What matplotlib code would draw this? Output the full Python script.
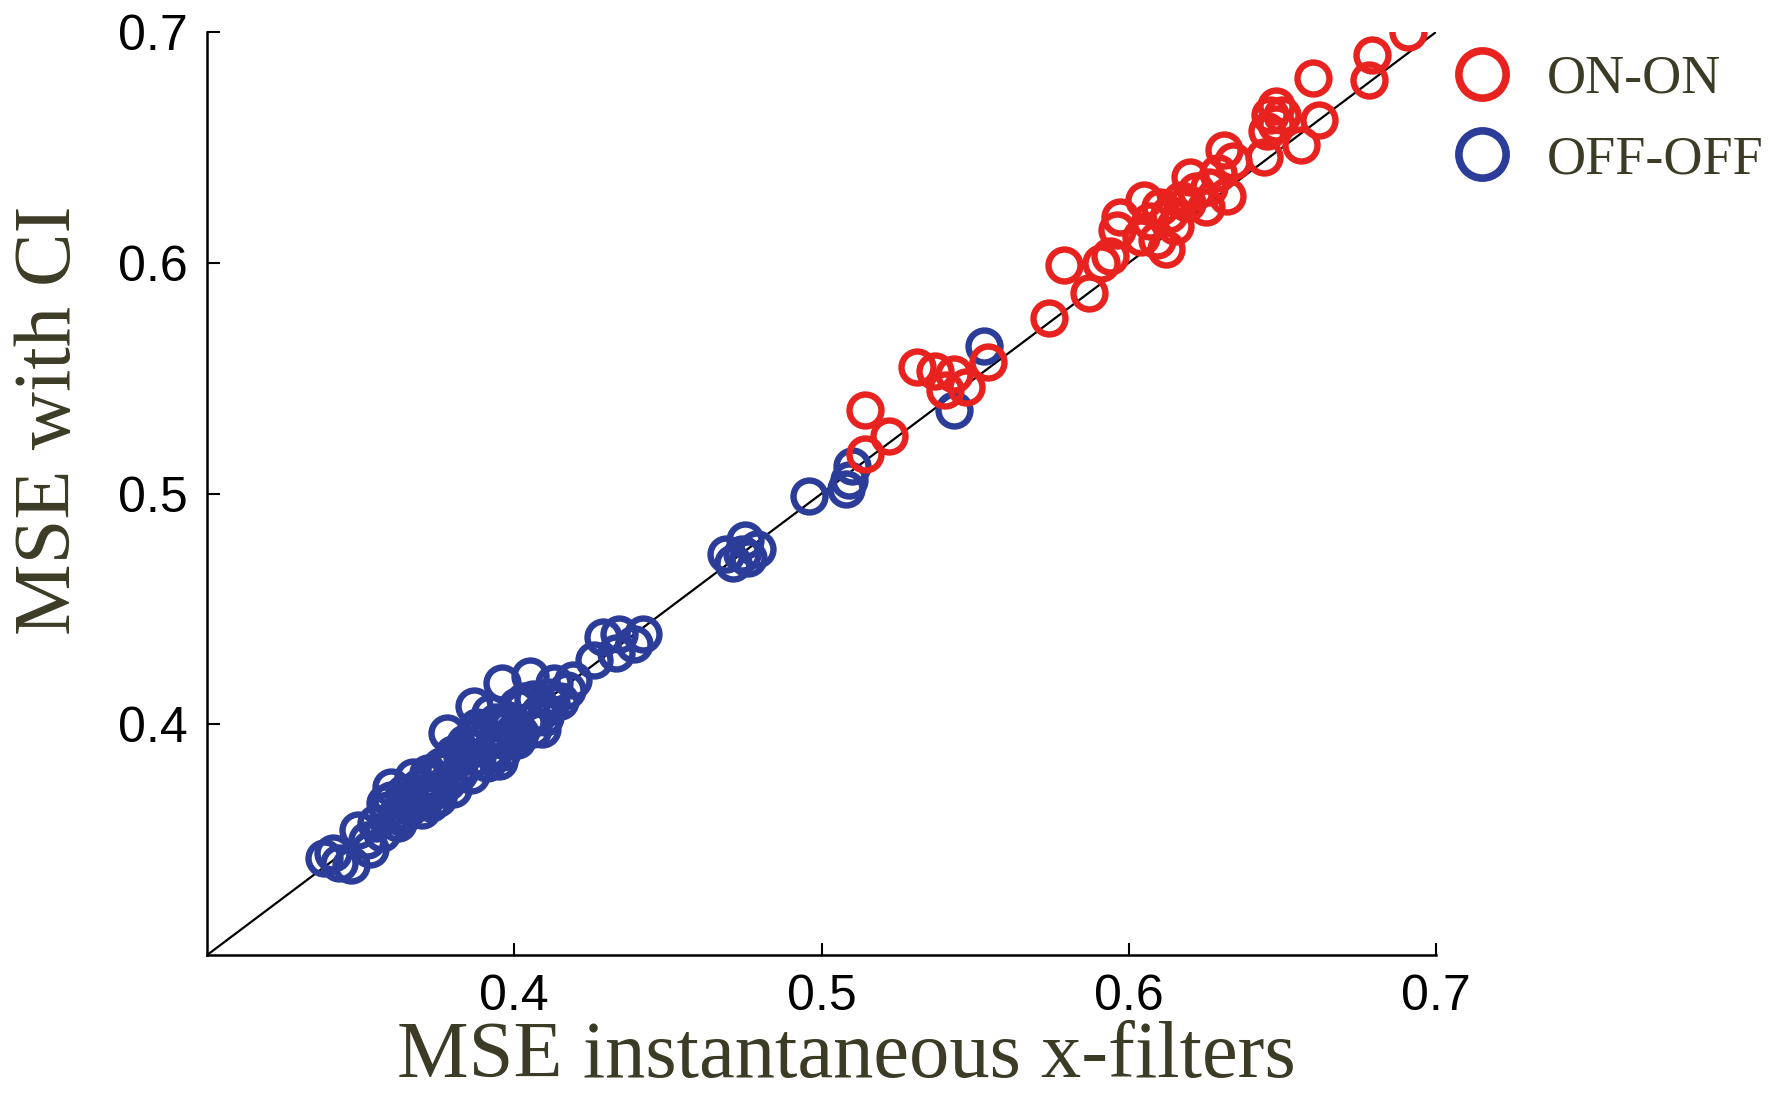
import matplotlib
matplotlib.use("Agg")
import matplotlib.pyplot as plt
from matplotlib.lines import Line2D

# ON-ON pairs (red)
on_x = [0.691, 0.679, 0.678, 0.660, 0.662, 0.656, 0.648, 0.646, 0.648, 0.645,
        0.650, 0.644, 0.631, 0.634, 0.629, 0.620, 0.622, 0.632, 0.625, 0.619,
        0.610, 0.605, 0.607, 0.609, 0.615, 0.597, 0.596, 0.594, 0.591, 0.579,
        0.587, 0.574, 0.554, 0.547, 0.543, 0.540, 0.537, 0.531, 0.522, 0.514,
        0.514, 0.626, 0.613, 0.617, 0.604, 0.612]
on_y = [0.700, 0.690, 0.679, 0.680, 0.662, 0.651, 0.668, 0.664, 0.660, 0.657,
        0.664, 0.646, 0.649, 0.644, 0.639, 0.637, 0.631, 0.629, 0.624, 0.626,
        0.624, 0.627, 0.618, 0.610, 0.616, 0.620, 0.614, 0.603, 0.600, 0.599,
        0.587, 0.576, 0.557, 0.546, 0.552, 0.545, 0.553, 0.555, 0.525, 0.536,
        0.517, 0.633, 0.621, 0.627, 0.611, 0.606]

# OFF-OFF pairs (blue)
off_x = [0.338, 0.343, 0.347, 0.349, 0.353, 0.352, 0.360, 0.360, 0.359, 0.363,
         0.365, 0.367, 0.369, 0.372, 0.374, 0.378, 0.376, 0.380, 0.382, 0.385,
         0.387, 0.388, 0.390, 0.392, 0.393, 0.396, 0.398, 0.401, 0.402, 0.405,
         0.406, 0.411, 0.413, 0.417, 0.419, 0.426, 0.429, 0.434, 0.433, 0.439,
         0.442, 0.355, 0.357, 0.362, 0.366, 0.370, 0.374, 0.378, 0.381, 0.385,
         0.388, 0.392, 0.396, 0.400, 0.404, 0.408, 0.412, 0.369, 0.377, 0.383,
         0.391, 0.398, 0.370, 0.375, 0.380, 0.386, 0.391, 0.396, 0.401, 0.406,
         0.364, 0.372, 0.384, 0.394, 0.403, 0.410, 0.358, 0.380, 0.389,
         0.341, 0.362, 0.373, 0.395, 0.409, 0.415,
         0.469, 0.475, 0.479, 0.471, 0.474, 0.476, 0.496, 0.509,
         0.510, 0.508, 0.543, 0.553]
off_y = [0.342, 0.340, 0.339, 0.354, 0.346, 0.350, 0.373, 0.367, 0.363, 0.360,
         0.367, 0.377, 0.370, 0.376, 0.367, 0.396, 0.382, 0.387, 0.379, 0.390,
         0.408, 0.399, 0.393, 0.405, 0.387, 0.418, 0.399, 0.408, 0.396, 0.421,
         0.411, 0.412, 0.418, 0.415, 0.419, 0.428, 0.438, 0.439, 0.431, 0.435,
         0.439, 0.357, 0.353, 0.362, 0.364, 0.368, 0.371, 0.375, 0.378, 0.383,
         0.386, 0.389, 0.393, 0.397, 0.401, 0.405, 0.409, 0.373, 0.380, 0.386,
         0.395, 0.402, 0.363, 0.368, 0.372, 0.378, 0.383, 0.388, 0.393, 0.398,
         0.370, 0.379, 0.392, 0.401, 0.410, 0.403, 0.366, 0.384, 0.398,
         0.344, 0.357, 0.366, 0.384, 0.398, 0.410,
         0.474, 0.480, 0.476, 0.470, 0.474, 0.472, 0.499, 0.506,
         0.512, 0.502, 0.536, 0.564]

ticks = [0.4, 0.5, 0.6, 0.7]

red = "#e8221e"
blue = "#2c3c99"
label_color = "#3b3b26"

fig = plt.figure(figsize=(17.73, 10.99), dpi=100)
ax = fig.add_axes([0.1168, 0.1310, 0.6932, 0.8399])

ax.plot([0.3, 0.7], [0.3, 0.7], color="black", lw=1.6, zorder=1)
ax.plot(off_x, off_y, "o", ms=23, mfc="none", mec=blue, mew=4.6, zorder=2)
ax.plot(on_x, on_y, "o", ms=23, mfc="none", mec=red, mew=4.6, zorder=3)

ax.set_xlim(0.3, 0.7)
ax.set_ylim(0.3, 0.7)
ax.set_xticks(ticks)
ax.set_yticks(ticks)
ax.set_xticklabels([str(t) for t in ticks], family="Liberation Sans", fontsize=36)
ax.set_yticklabels([str(t) for t in ticks], family="Liberation Sans", fontsize=36)
ax.tick_params(direction="in", length=9, width=1.5, pad=14)
ax.spines["top"].set_visible(False)
ax.spines["right"].set_visible(False)
ax.spines["left"].set_linewidth(1.8)
ax.spines["bottom"].set_linewidth(1.8)

ax.set_xlabel("MSE instantaneous x-filters", family="Liberation Serif",
              fontsize=58, color=label_color)
ax.set_ylabel("MSE with CI", family="Liberation Serif",
              fontsize=58, color=label_color)
ax.xaxis.set_label_coords(0.52, -0.072)
ax.yaxis.set_label_coords(-0.098, 0.579)

handles = [Line2D([], [], ls="none", marker="o", ms=34, mfc="none", mec=red, mew=5.5),
           Line2D([], [], ls="none", marker="o", ms=34, mfc="none", mec=blue, mew=5.5)]
leg = fig.legend(handles, ["ON-ON", "OFF-OFF"], loc="upper left",
                 bbox_to_anchor=(0.79, 0.995), frameon=False,
                 prop={"family": "Liberation Serif", "size": 39},
                 handletextpad=0.6, labelspacing=0.55, handlelength=1.2)
for t in leg.get_texts():
    t.set_color(label_color)

fig.savefig("out.png", dpi=100)
